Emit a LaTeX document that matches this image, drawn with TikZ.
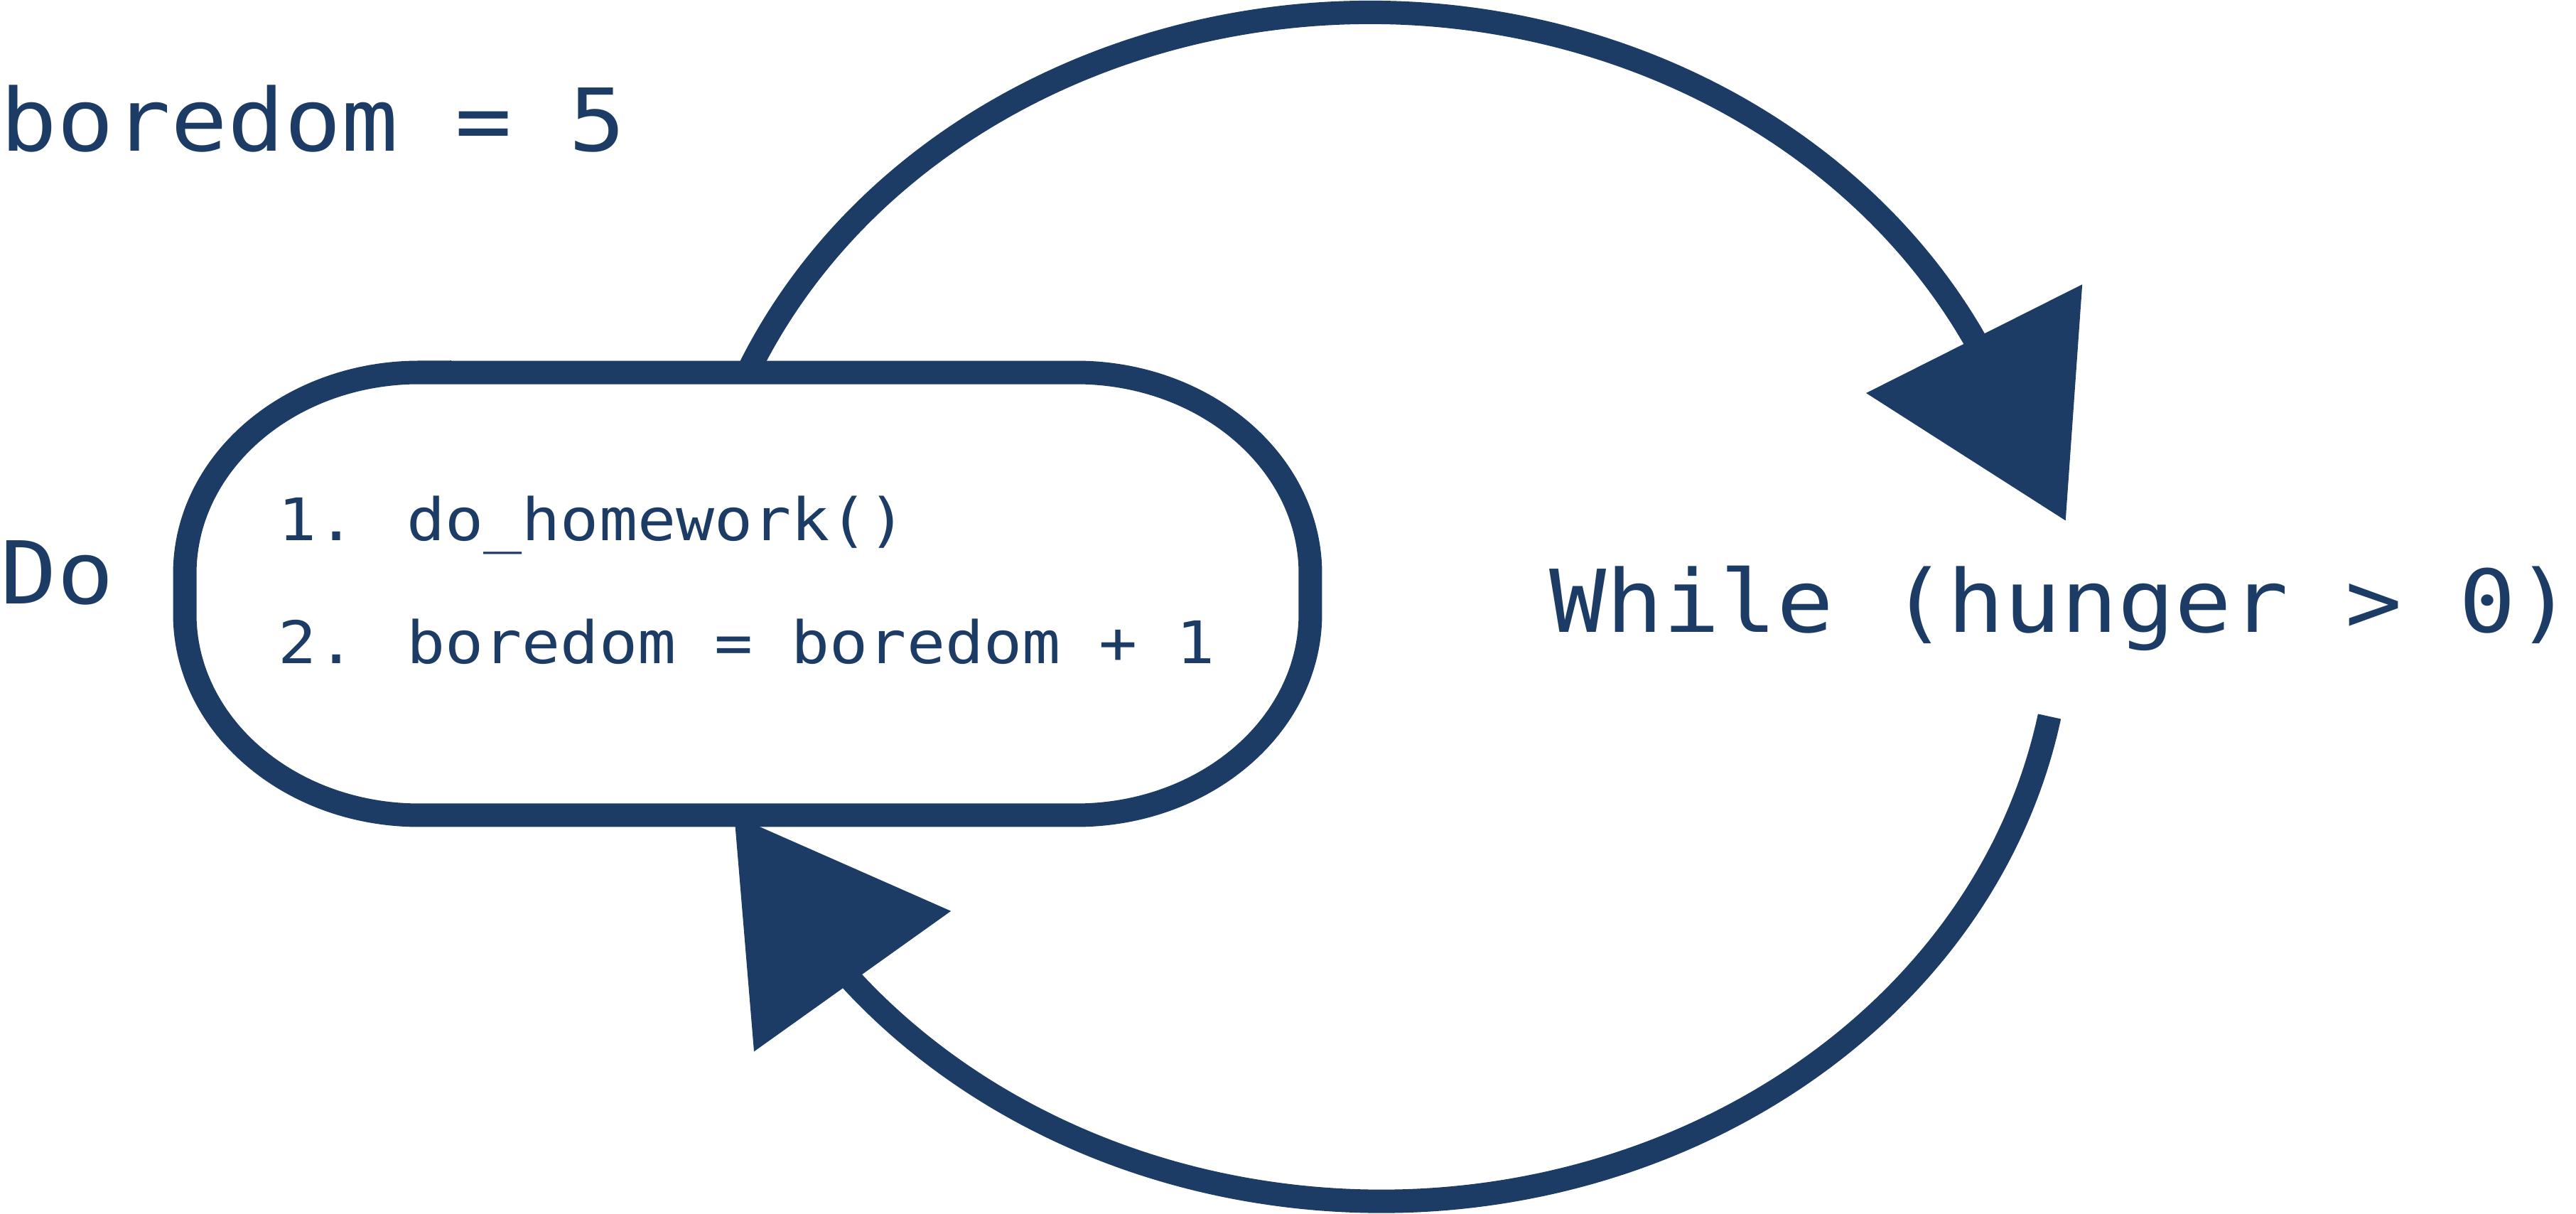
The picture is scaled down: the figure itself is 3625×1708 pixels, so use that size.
\documentclass[tikz,border=0pt]{standalone}
\usepackage{fontspec}
\newfontfamily\codefont[FakeStretch=1.09]{DejaVu Sans Mono}
\usetikzlibrary{arrows.meta}
\definecolor{navy}{RGB}{29,60,101}
\begin{document}
\begin{tikzpicture}[x=0.1pt,y=0.1pt,
  lbl/.style={text=navy, inner sep=0pt, outer sep=0pt, anchor=base west,
              font=\codefont\fontsize{12.2pt}{14pt}\selectfont},
  codeline/.style={lbl, font=\codefont\fontsize{8.25pt}{10pt}\selectfont},
  loopline/.style={draw=navy, line width=3.3pt},
  flow/.style={loopline, -{Triangle[length=28.7pt,width=33.2pt]}},
  holder/.style={draw=none, inner sep=0pt, outer sep=0pt,
                 minimum width=158.4pt, minimum height=62.3pt}]
\useasboundingbox (0,0) rectangle (3625,-1708);

% nodes
\node[holder] (box) at (1052,-835.5) {};
\node[lbl] (bored) at (0,-213) {boredom = 5};
\node[lbl] (do) at (0,-850) {Do};
\node[lbl] (while) at (2180,-890) {While (hunger > 0)};
\coordinate (win) at (2907,-733);
\coordinate (wout) at (2884,-1008);

% connectors (elliptic arcs, straight run inside the arrow head)
\draw[flow] (box.north)
  arc[start angle=156.76, end angle=26.76, x radius=953, y radius=836.5]
  -- (win);
\draw[flow] (wout)
  arc[start angle=-10.64, end angle=-140.9, x radius=957.5, y radius=836.5]
  -- ([xshift=-1.9pt]box.south);

% loop body outline
\draw[loopline, fill=white] ([xshift=33pt]box.north west) -- ([xshift=-33pt]box.north east)
  arc[start angle=90, end angle=0, x radius=330, y radius=283]
  -- ([yshift=28.3pt]box.south east)
  arc[start angle=0, end angle=-90, x radius=330, y radius=283]
  -- ([xshift=33pt]box.south west)
  arc[start angle=-90, end angle=-180, x radius=330, y radius=283]
  -- ([yshift=-28.3pt]box.north west)
  arc[start angle=180, end angle=90, x radius=330, y radius=283]
  -- cycle;

\node[codeline] (l1) at (392,-761) {1. do\_homework()};
\node[codeline] (l2) at (392,-934) {2. boredom = boredom + 1};
\end{tikzpicture}
\end{document}
